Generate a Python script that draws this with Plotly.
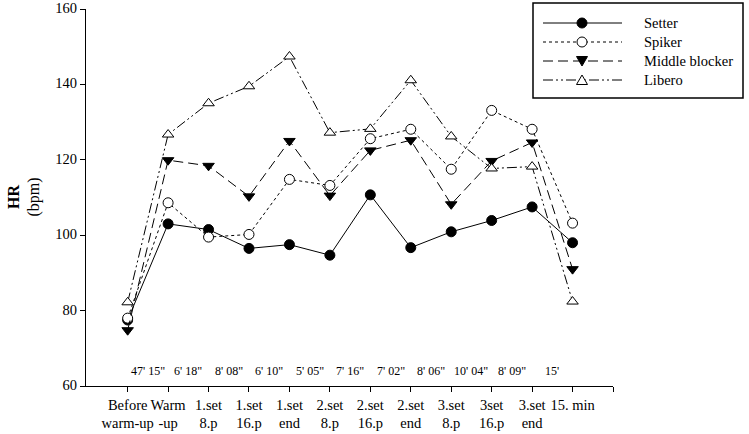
import plotly.graph_objects as go

categories = ["Before<br>warm-up", "Warm<br>-up", "1.set<br>8.p", "1.set<br>16.p", "1.set<br>end",
              "2.set<br>8.p", "2.set<br>16.p", "2.set<br>end", "3.set<br>8.p", "3set<br>16.p",
              "3.set<br>end", "15. min"]
setter = [77.5, 103.0, 101.5, 96.5, 97.5, 94.7, 110.7, 96.7, 100.9, 103.9, 107.5, 98.0]
spiker = [78.0, 108.6, 99.5, 100.2, 114.8, 113.2, 125.6, 128.1, 117.5, 133.1, 128.1, 103.2]
middle_blocker = [74.8, 119.9, 118.4, 110.3, 125.0, 110.5, 122.5, 125.2, 108.2, 119.7, 124.6, 91.0]
libero = [82.2, 126.7, 135.0, 139.5, 147.4, 127.2, 128.2, 141.1, 126.2, 117.7, 118.2, 82.4]
durations = ["47' 15\"", "6' 18\"", "8' 08\"", "6' 10\"", "5' 05\"", "7' 16\"",
             "7' 02\"", "8' 06\"", "10' 04\"", "8' 09\"", "15'"]

FONT = "Liberation Serif, Times New Roman, serif"
W, H = 749, 434
ML, MR, MT, MB = 86, 136, 9, 48
PW, PH = W - ML - MR, H - MT - MB
x = list(range(len(categories)))

series = [
    ("Setter", setter, "solid", "circle", "black"),
    ("Spiker", spiker, "dot", "circle", "white"),
    ("Middle blocker", middle_blocker, "10px,5px", "triangle-down", "black"),
    ("Libero", libero, "10px,3px,2px,3px,2px,3px", "triangle-up", "white"),
]

fig = go.Figure()
for name, vals, dash, sym, fill in series:
    fig.add_trace(go.Scatter(
        x=x, y=vals, name=name, mode="lines+markers", showlegend=False,
        line=dict(color="black", width=1, dash=dash),
        marker=dict(size=10, symbol=sym, color=fill, line=dict(color="black", width=1)),
    ))


def px(xp):
    return (xp - ML) / PW


def py(yp):
    return (H - MB - yp) / PH


annotations = []
shapes = []
for i, d in enumerate(durations):
    annotations.append(dict(x=i + 0.5, y=64.0, xref="x", yref="y", text=d, showarrow=False,
                            font=dict(family=FONT, size=12, color="black")))
annotations.append(dict(x=0, y=0.5, xref="paper", yref="paper", xshift=-62, text="<b>HR</b><br>(bpm)",
                        textangle=-90, showarrow=False, xanchor="center", yanchor="middle",
                        font=dict(family=FONT, size=16, color="black")))

# custom legend
shapes.append(dict(type="rect", xref="paper", yref="paper", x0=px(533), x1=px(743), y0=py(98), y1=py(3),
                   line=dict(color="black", width=1.5), fillcolor="white", layer="above"))
rows = [23, 42, 61, 80]
for (name, vals, dash, sym, fill), ry in zip(series, rows):
    shapes.append(dict(type="line", xref="paper", yref="paper", x0=px(543), x1=px(622), y0=py(ry), y1=py(ry),
                       line=dict(color="black", width=1, dash=dash), layer="above"))
    cx = 582
    if sym == "circle":
        shapes.append(dict(type="circle", xref="paper", yref="paper", x0=px(cx - 5), x1=px(cx + 5),
                           y0=py(ry + 5), y1=py(ry - 5), fillcolor=fill,
                           line=dict(color="black", width=1), layer="above"))
    elif sym == "triangle-down":
        path = f"M{px(cx-5.5)},{py(ry-4.5)} L{px(cx+5.5)},{py(ry-4.5)} L{px(cx)},{py(ry+5)} Z"
        shapes.append(dict(type="path", xref="paper", yref="paper", path=path, fillcolor=fill,
                           line=dict(color="black", width=1), layer="above"))
    else:
        path = f"M{px(cx-5.5)},{py(ry+4.5)} L{px(cx+5.5)},{py(ry+4.5)} L{px(cx)},{py(ry-5)} Z"
        shapes.append(dict(type="path", xref="paper", yref="paper", path=path, fillcolor=fill,
                           line=dict(color="black", width=1), layer="above"))
    annotations.append(dict(x=px(642), y=py(ry), xref="paper", yref="paper", text=name, showarrow=False,
                            xanchor="left", yanchor="middle",
                            font=dict(family=FONT, size=14.5, color="black")))

fig.update_layout(
    width=W, height=H,
    margin=dict(l=ML, r=MR, t=MT, b=MB),
    paper_bgcolor="white", plot_bgcolor="white",
    font=dict(family=FONT, size=14, color="black"),
    showlegend=False,
    xaxis=dict(range=[-1.03, 12], tickmode="array", tickvals=list(range(13)),
               ticktext=categories + [""], showline=True, linecolor="black", linewidth=1.3,
               ticks="outside", ticklen=5, tickcolor="black", showgrid=False, zeroline=False,
               tickangle=0, automargin=False, tickfont=dict(family=FONT, size=14.5)),
    yaxis=dict(range=[60, 160], tickvals=[60, 80, 100, 120, 140, 160], showline=True,
               linecolor="black", linewidth=1.3, ticks="outside", ticklen=5, tickcolor="black",
               showgrid=False, zeroline=False, automargin=False, ticklabeloverflow="allow",
               ticklabelshift=-1, tickfont=dict(family=FONT, size=14.5)),
    annotations=annotations,
    shapes=shapes,
)

fig.write_html("out.html", config={"displayModeBar": False},
               post_script="document.body.style.margin='0';document.body.style.overflow='hidden';")
